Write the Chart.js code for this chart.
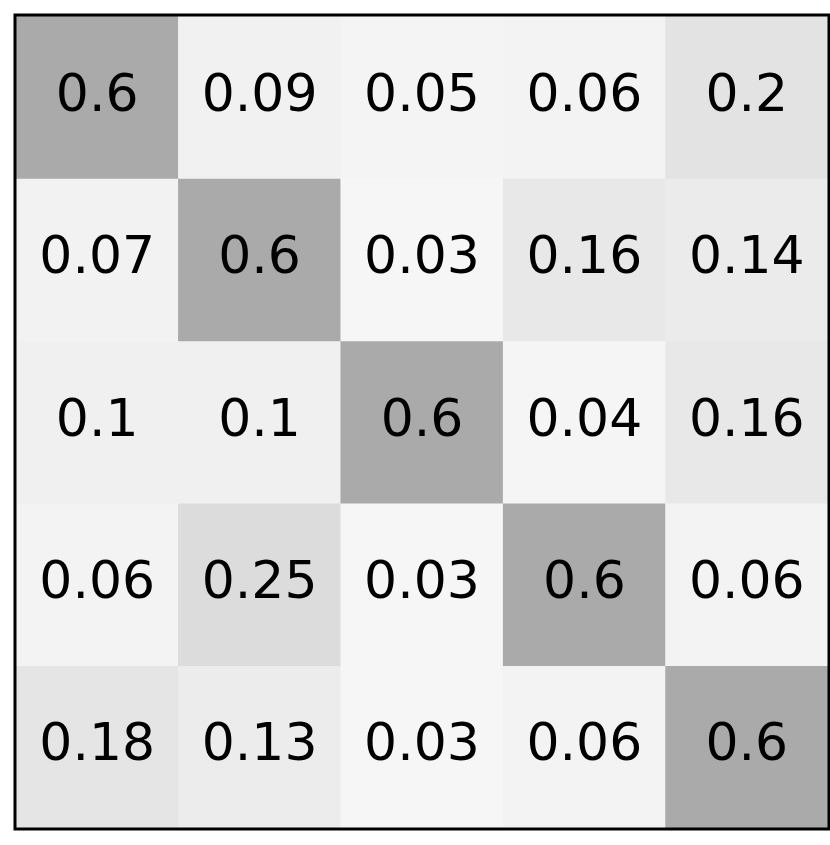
<!DOCTYPE html>
<html>
<head>
<meta charset="utf-8">
<script src="https://cdn.jsdelivr.net/npm/chart.js@4"></script>
<style>
  body { margin: 0; background: #fff; }
  canvas { display: block; }
</style>
</head>
<body>
<canvas id="heat" width="830" height="845"></canvas>
<script>
// columns and rows of the matrix
const colunas = ['c1', 'c2', 'c3', 'c4', 'c5'];
const linha1 = [0.6, 0.09, 0.05, 0.06, 0.2];
const linha2 = [0.07, 0.6, 0.03, 0.16, 0.14];
const linha3 = [0.1, 0.1, 0.6, 0.04, 0.16];
const linha4 = [0.06, 0.25, 0.03, 0.6, 0.06];
const linha5 = [0.18, 0.13, 0.03, 0.06, 0.6];
const linhas = [linha1, linha2, linha3, linha4, linha5];

// grey ramp (value -> grey level)
const rampa = [[0, 248], [0.1, 240], [0.25, 220], [0.6, 170], [1, 110]];
function corCelula(v) {
  for (let i = 1; i < rampa.length; i++) {
    if (v <= rampa[i][0]) {
      const [v0, g0] = rampa[i - 1], [v1, g1] = rampa[i];
      const g = Math.round(g0 + (g1 - g0) * (v - v0) / (v1 - v0));
      return `rgb(${g},${g},${g})`;
    }
  }
  return 'rgb(110,110,110)';
}

const datasets = linhas.map((vals, r) => ({
  label: 'linha ' + (r + 1),
  data: vals.map(() => [r, r + 1]),
  valores: vals,
  backgroundColor: vals.map(corCelula),
  borderWidth: 0,
  barPercentage: 1,
  categoryPercentage: 1,
  grouped: false
}));

const textoCelulas = {
  id: 'textoCelulas',
  afterDatasetsDraw(chart) {
    const ctx = chart.ctx;
    ctx.save();
    ctx.fillStyle = '#000';
    ctx.font = '52px "DejaVu Sans"';
    ctx.textAlign = 'center';
    ctx.textBaseline = 'middle';
    chart.data.datasets.forEach((ds, i) => {
      chart.getDatasetMeta(i).data.forEach((bar, j) => {
        const yc = (bar.y + bar.base) / 2;
        ctx.fillText(String(ds.valores[j]), bar.x, yc);
      });
    });
    ctx.restore();
  }
};

const moldura = {
  id: 'moldura',
  afterDraw(chart) {
    const a = chart.chartArea, ctx = chart.ctx;
    ctx.save();
    ctx.strokeStyle = '#000';
    ctx.lineWidth = 3;
    ctx.strokeRect(a.left - 1, a.top - 1, a.right - a.left + 2, a.bottom - a.top + 2);
    ctx.restore();
  }
};

new Chart(document.getElementById('heat'), {
  type: 'bar',
  data: { labels: colunas, datasets },
  options: {
    responsive: false,
    animation: false,
    layout: { padding: { left: 16, top: 16, right: 2, bottom: 17 } },
    plugins: { legend: { display: false }, tooltip: { enabled: false } },
    scales: {
      x: { display: false, offset: true },
      y: { display: false, min: 0, max: 5, reverse: true }
    }
  },
  plugins: [textoCelulas, moldura]
});
</script>
</body>
</html>
